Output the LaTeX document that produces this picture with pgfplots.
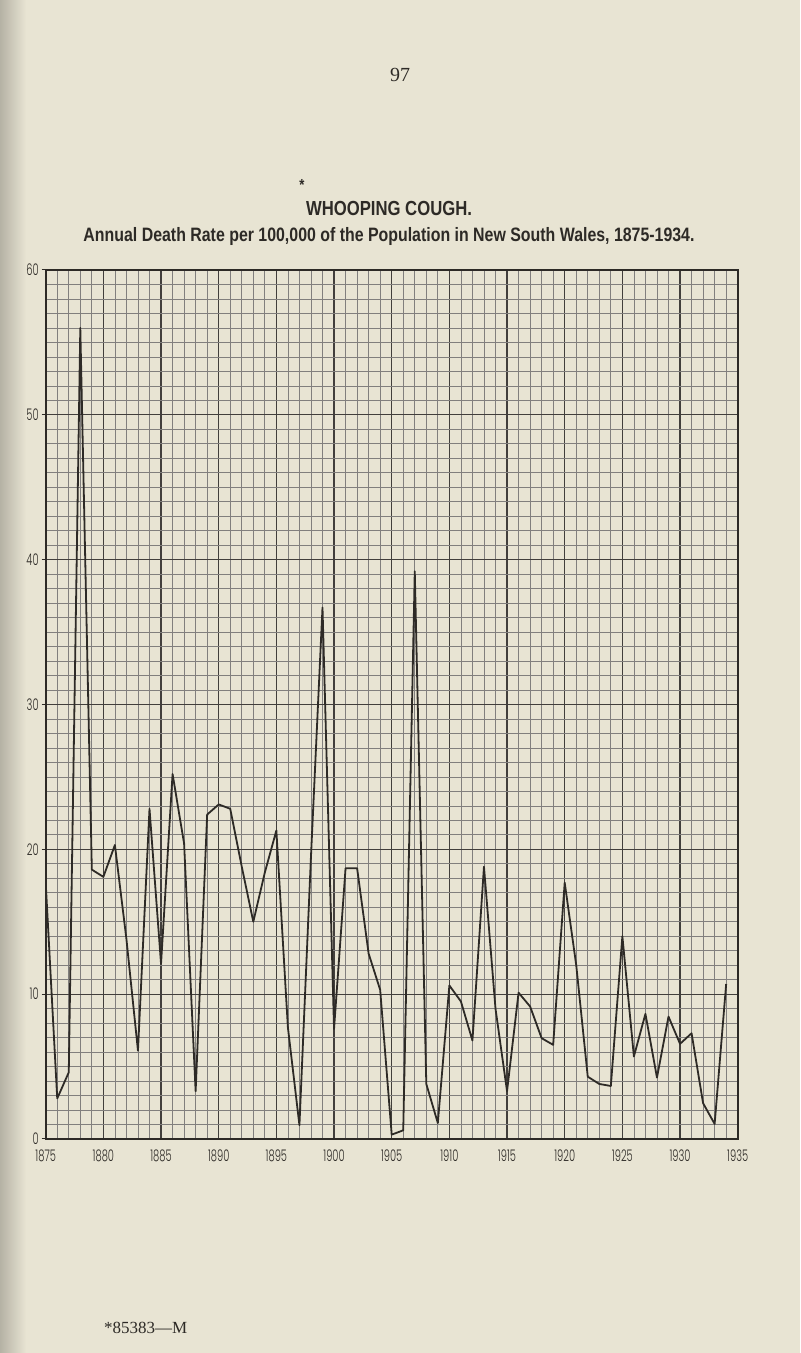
\documentclass[border=0pt]{standalone}
\usepackage{pgfplots}
\pgfplotsset{compat=1.18}
\usepackage{fontspec}
\setmainfont{Liberation Serif}
\newfontfamily\titlefont{Liberation Sans}[FakeStretch=0.82]
\newfontfamily\tickfont{Poppins Light}[FakeStretch=0.62]
\definecolor{paper}{RGB}{232,228,211}
\definecolor{ink}{RGB}{45,42,38}
\begin{document}
\begin{tikzpicture}
\fill[paper] (0pt,0pt) rectangle (400pt,676.5pt);
\shade[left color=black!22!paper, right color=paper] (0pt,0pt) rectangle (13pt,676.5pt);
\path[use as bounding box] (0pt,0pt) rectangle (400pt,676.5pt);
\node[text=ink,font=\fontsize{10}{12}\selectfont] at (200pt,639pt) {97};
\node[text=ink,font=\titlefont\bfseries\fontsize{8}{9}\selectfont] at (151pt,584pt) {*};
\node[text=ink] at (194.5pt,572pt) {\resizebox{83pt}{!}{\titlefont\bfseries WHOOPING COUGH.}};
\node[text=ink] at (194.5pt,558pt) {\resizebox{305.5pt}{!}{\titlefont\bfseries Annual Death Rate per 100,000 of the Population in New South Wales, 1875-1934.}};
\node[text=ink,anchor=west,font=\fontsize{8.5}{10}\selectfont] at (48.5pt,12.5pt) {*85383---M};
\begin{axis}[
  at={(22.85pt,107pt)}, anchor=south west,
  scale only axis, width=346pt, height=434.5pt,
  xmin=1875, xmax=1935, ymin=0, ymax=60,
  xtick={1875,1880,...,1935}, minor x tick num=4,
  ytick={0,10,...,60}, minor y tick num=9,
  ytick pos=left,
  grid=both,
  major grid style={ink!90, line width=0.6pt},
  minor grid style={ink!60, line width=0.35pt},
  axis line style={ink, line width=0.8pt},
  tick align=outside,
  major tick length=2pt, minor tick length=0pt,
  xtick style={draw=none},
  ytick style={ink, line width=0.5pt},
  /pgf/number format/assume math mode=true,
  /pgf/number format/1000 sep={},
  tick label style={font=\tickfont\fontsize{8}{9}\selectfont, text=ink},
  xticklabel style={yshift=0pt},
  yticklabel style={xshift=2pt},
]
\addplot[ink, line width=0.9pt, line join=round, mark=none] coordinates {
(1875,17.7) (1876,2.8) (1877,4.6) (1878,56.0) (1879,18.6) (1880,18.1)
(1881,20.3) (1882,13.8) (1883,6.1) (1884,22.8) (1885,12.1) (1886,25.2)
(1887,20.4) (1888,3.3) (1889,22.4) (1890,23.1) (1891,22.8) (1892,18.8)
(1893,15.0) (1894,18.4) (1895,21.3) (1896,7.7) (1897,0.95) (1898,19.5)
(1899,36.7) (1900,7.6) (1901,18.7) (1902,18.7) (1903,12.8) (1904,10.3)
(1905,0.3) (1906,0.6) (1907,39.2) (1908,3.8) (1909,1.1) (1910,10.6)
(1911,9.5) (1912,6.8) (1913,18.8) (1914,9.0) (1915,3.3) (1916,10.1)
(1917,9.15) (1918,6.96) (1919,6.5) (1920,17.7) (1921,12.0) (1922,4.3)
(1923,3.8) (1924,3.66) (1925,14.0) (1926,5.7) (1927,8.64) (1928,4.24)
(1929,8.45) (1930,6.57) (1931,7.3) (1932,2.47) (1933,1.04) (1934,10.7)
};
\end{axis}
\end{tikzpicture}
\end{document}
